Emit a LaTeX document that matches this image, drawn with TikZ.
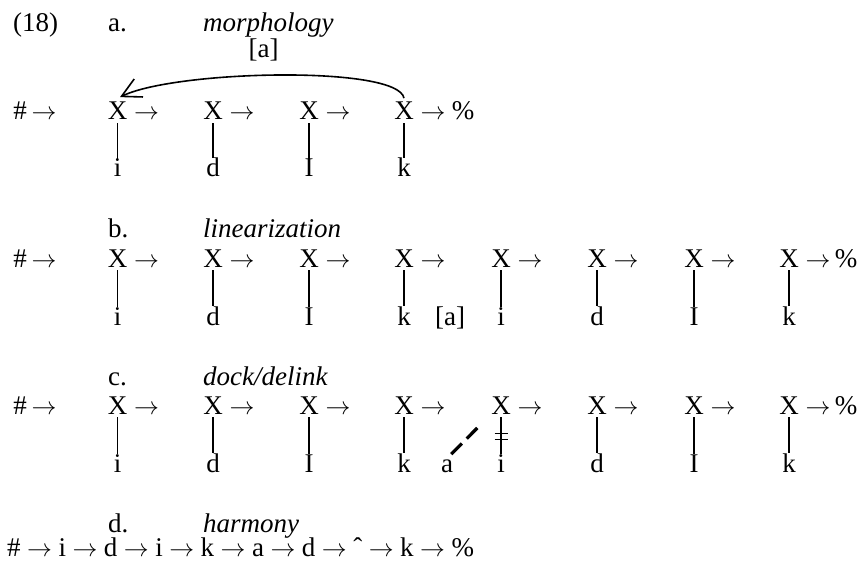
\documentclass[tikz,border=0pt]{standalone}
\usepackage{fontspec}
\setmainfont{Liberation Serif}
\usetikzlibrary{arrows.meta}
\newcommand{\rar}{$\rightarrow$}
\newcommand{\chr}{\hspace{6.5pt}$\rightarrow$\hspace{6.5pt}}
\begin{document}
\begin{tikzpicture}[x=1pt,y=-1pt,
  txt/.style={inner sep=0pt, anchor=base, font=\fontsize{27pt}{32pt}\selectfont},
  lnk/.style={line width=1.6pt},
]
\useasboundingbox (0,0) rectangle (864,561);
% titles
\node[txt, anchor=base west] (num) at (13,32) {(18)};
\node[txt, anchor=base west] (laba) at (108,32) {a.};
\node[txt, anchor=base west] (tita) at (203,32) {\itshape morphology};
\node[txt] (bra) at (263.5,58) {[a]};
\node[txt, anchor=base west] (labb) at (108,237) {b.};
\node[txt, anchor=base west] (titb) at (203,237) {\itshape linearization};
\node[txt, anchor=base west] (labc) at (108,385) {c.};
\node[txt, anchor=base west] (titc) at (203,385) {\itshape dock/delink};
\node[txt, anchor=base west] (labd) at (108,532) {d.};
\node[txt, anchor=base west] (titd) at (203,532) {\itshape harmony};
% row a
\node[txt] (ha) at (20,120) {\#};
\node[txt] (hara) at (44,120) {\rar};
\foreach \i/\x/\l in {1/117.5/i,2/213/d,3/309/I,4/404/k}{
  \node[txt] (xa\i) at (\x,120) {X};
  \node[txt] (ara\i) at (\x+29,120) {\rar};
  \node[txt] (ga\i) at (\x,177) {\l};
  \draw[lnk] ([yshift=-3pt]xa\i.south) -- (ga\i.north);
}
\node[txt] (pa) at (463,120) {\%};
\draw[line width=1.6pt, -{Straight Barb[length=19pt,width=20pt]}]
  ([yshift=4pt]xa4.north) .. controls +(-6,-33) and +(55,-27) .. ([xshift=2.5pt,yshift=5pt]xa1.north);
% row b
\node[txt] (hb) at (20,267) {\#};
\node[txt] (harb) at (44,267) {\rar};
\foreach \i/\x/\l in {1/117.5/i,2/213/d,3/309/I,4/404/k,5/501/i,6/597/d,7/694/I,8/789/k}{
  \node[txt] (xb\i) at (\x,267) {X};
  \node[txt] (arb\i) at (\x+29,267) {\rar};
  \node[txt] (gb\i) at (\x,325) {\l};
  \draw[lnk] ([yshift=-3pt]xb\i.south) -- (gb\i.north);
}
\node[txt] (pb) at (846,267) {\%};
\node[txt] (brb) at (450,325) {[a]};
% row c
\node[txt] (hc) at (20,414) {\#};
\node[txt] (harc) at (44,414) {\rar};
\foreach \i/\x/\l in {1/117.5/i,2/213/d,3/309/I,4/404/k,5/501/i,6/597/d,7/694/I,8/789/k}{
  \node[txt] (xc\i) at (\x,414) {X};
  \node[txt] (arc\i) at (\x+29,414) {\rar};
  \node[txt] (gc\i) at (\x,472) {\l};
  \draw[lnk] ([yshift=-3pt]xc\i.south) -- (gc\i.north);
}
\node[txt] (pc) at (846,414) {\%};
\node[txt] (ca) at (447,472) {a};
\draw[line width=3.2pt, dash pattern=on 15pt off 7pt on 15pt off 14pt on 1.5pt]
  ([xshift=-2pt,yshift=5pt]ca.north east) -- ([xshift=-14pt,yshift=-4pt]xc5.south);
\draw[line width=1.3pt] (xc5.south) ++(-6.5,19) -- ++(13,0);
\draw[line width=1.3pt] (xc5.south) ++(-6.5,25) -- ++(13,0);
% row d
\node[txt, anchor=base west] (chain) at (7,556) {\#\chr i\chr d\chr i\chr k\chr a\chr d\chr ˆ\chr k\chr \%};
\end{tikzpicture}
\end{document}
